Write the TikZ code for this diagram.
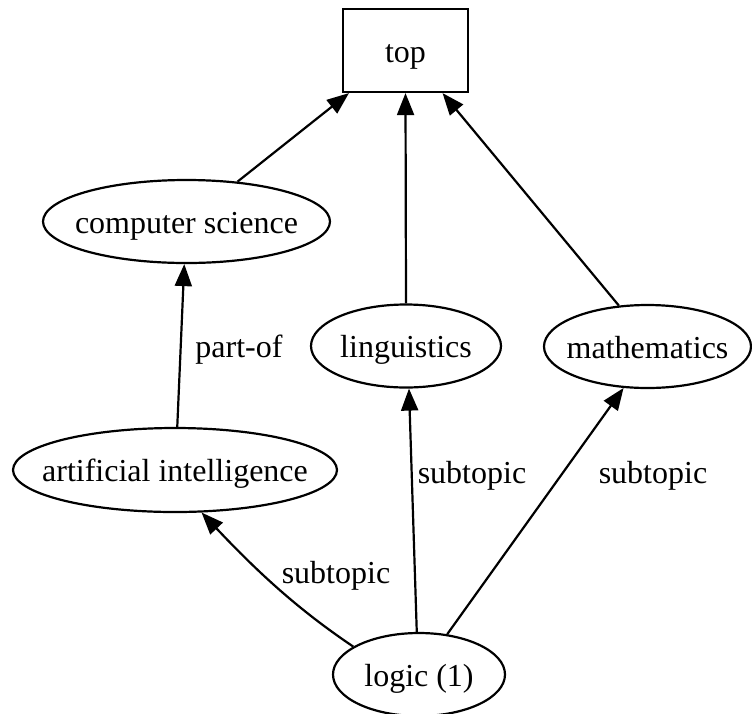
\documentclass[tikz,border=0pt]{standalone}
\usepackage{fontspec}
\setmainfont{Liberation Serif}
\usetikzlibrary{arrows.meta,shapes.geometric}
\newcommand{\ctext}[1]{\makebox[0pt][c]{#1}}
\begin{document}
\begin{tikzpicture}[x=1pt,y=-1pt,
  every node/.style={font=\fontsize{32}{38}\selectfont, inner sep=0pt, text height=23pt, text depth=0pt},
  boxnode/.style={draw, line width=2.2pt, rectangle, minimum width=125pt, minimum height=83pt},
  ellnode/.style={draw, line width=2.2pt, ellipse, minimum height=83pt},
  lbl/.style={},
  edge/.style={line width=2.2pt, -{Triangle[length=22pt,width=17pt]}}
]
\useasboundingbox (0,0) rectangle (752,713);
\node[boxnode] (top) at (405.5,50.5) {\ctext{top}};
\node[ellnode, minimum width=287pt] (cs) at (186.5,221.5) {\ctext{computer science}};
\node[ellnode, minimum width=190pt] (ling) at (406,346) {\ctext{linguistics}};
\node[ellnode, minimum width=207pt] (math) at (647.5,346.5) {\ctext{mathematics}};
\node[ellnode, minimum width=324pt, minimum height=84pt] (ai) at (175,470) {\ctext{artificial intelligence}};
\node[ellnode, minimum width=172pt] (logic) at (419,674.5) {\ctext{logic (1)}};

\draw[edge] (cs.38) -- (top.217.8);
\draw[edge] (ling.north) -- (top.south);
\draw[edge] (math.125.7) -- (top.311.3);
\draw[edge] (ai.87) -- (cs.267);
\draw[edge] (logic.157) .. controls (305,614) and (265,580) .. (ai.302);
\draw[edge] (logic.93) -- (ling.274);
\draw[edge] (logic.55) -- (math.240);

\node[lbl] (lpart) at (239,345.5) {part-of};
\node[lbl] (lsub1) at (336,571.5) {subtopic};
\node[lbl] (lsub2) at (472,471.5) {subtopic};
\node[lbl] (lsub3) at (653,471.5) {subtopic};
\end{tikzpicture}
\end{document}
